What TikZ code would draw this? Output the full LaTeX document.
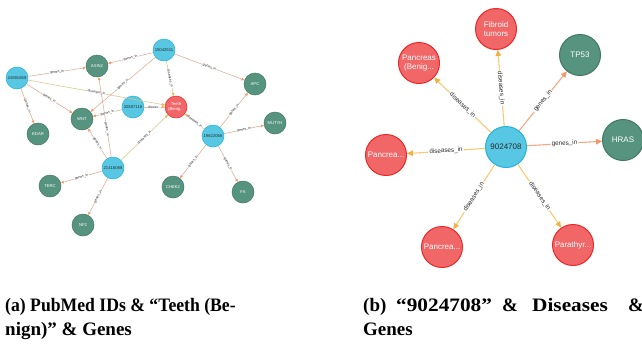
\documentclass[tikz,border=0pt]{standalone}
\usepackage{fontspec}
\setmainfont{Liberation Serif}
\newfontfamily\lsans{Liberation Sans}
\usetikzlibrary{arrows.meta}
\definecolor{nblue}{HTML}{57C7E3}
\definecolor{nbluedk}{HTML}{23B3D7}
\definecolor{nred}{HTML}{F16667}
\definecolor{nreddk}{HTML}{EB2728}
\definecolor{ngreen}{HTML}{569480}
\definecolor{ngreendk}{HTML}{447666}
\definecolor{gline}{HTML}{DDAA94}
\definecolor{dline}{HTML}{D9C38E}
\definecolor{gtip}{HTML}{F79767}
\definecolor{dtip}{HTML}{F2B140}
\definecolor{gline2}{HTML}{F5A684}
\definecolor{dline2}{HTML}{F8C977}
\definecolor{ntext}{HTML}{2B2B2B}
\tikzset{
  x=1pt, y=-1pt,
  sn/.style={circle, minimum size=22pt, inner sep=0pt, line width=0.5pt, align=center,
    font=\lsans\fontsize{4.2}{4.6}\selectfont},
  pubs/.style={sn, fill=nblue, draw=nbluedk, text=ntext},
  genes/.style={sn, fill=ngreen, draw=ngreendk, text=white},
  diss/.style={sn, fill=nred, draw=nreddk, text=white},
  bn/.style={circle, minimum size=41pt, inner sep=0pt, line width=1pt, align=center,
    font=\lsans\fontsize{8}{8.6}\selectfont},
  pubb/.style={bn, fill=nblue, draw=nbluedk, text=ntext},
  geneb/.style={bn, fill=ngreen, draw=ngreendk, text=white},
  disb/.style={bn, fill=nred, draw=nreddk, text=white},
  ge/.style={draw=gline, line width=0.55pt, -{Triangle[length=3pt,width=2.6pt,color=gtip]}},
  de/.style={draw=dline, line width=0.55pt, -{Triangle[length=3pt,width=2.6pt,color=dtip]}},
  geb/.style={draw=gline2, line width=1.1pt, -{Triangle[length=6pt,width=5.5pt,color=gtip]}},
  deb/.style={draw=dline2, line width=1.1pt, -{Triangle[length=6pt,width=5.5pt,color=dtip]}},
  lab/.style={midway, sloped, fill=white, inner sep=0.4pt, text=ntext,
    font=\lsans\fontsize{3.4}{3.8}\selectfont},
  labb/.style={midway, sloped, fill=white, inner sep=1pt, text=ntext,
    font=\lsans\fontsize{6.3}{7}\selectfont},
  captxt/.style={inner sep=0pt, anchor=base west, font=\bfseries\fontsize{19}{22}\selectfont},
}
\begin{document}
\begin{tikzpicture}
\useasboundingbox (0,0) rectangle (642,346);
% ---------- left graph ----------
\node[pubs] (p1) at (17,78) {24591659};
\node[genes] (axin) at (97,66) {AXIN2};
\node[pubs] (p2) at (164,50) {15042511};
\node[pubs] (p3) at (133,107) {32807118};
\node[diss] (teeth) at (176,107) {Teeth\\(Benig...};
\node[genes] (wnt) at (82,119) {WNT};
\node[genes] (edar) at (38,134) {EDAR};
\node[genes] (apc) at (255,84) {APC};
\node[genes] (mutyh) at (275,123) {MUTYH};
\node[pubs] (p4) at (213,136) {19622066};
\node[pubs] (p5) at (113,168) {21416088};
\node[genes] (terc) at (50,186) {TERC};
\node[genes] (nf2) at (83,225) {NF2};
\node[genes] (chek) at (173,187) {CHEK2};
\node[genes] (fa) at (243,192) {FA};

\draw[ge] (p1) -- node[lab]{genes\_in} (axin);
\draw[ge] (p1) -- node[lab]{genes\_in} (wnt);
\draw[ge] (p1) -- node[lab]{genes\_in} (edar);
\draw[de] (p1) -- node[lab]{diseases\_in} (teeth);
\draw[ge] (p2) -- node[lab]{genes\_in} (axin);
\draw[ge] (p2) -- node[lab]{genes\_in} (wnt);
\draw[de] (p2) -- node[lab]{diseases\_in} (teeth);
\draw[ge] (p2) -- node[lab]{genes\_in} (apc);
\draw[ge] (p3) -- node[lab]{genes\_in} (wnt);
\draw[de] (p3) -- node[lab]{diseas...} (teeth);
\draw[ge] (p5) -- node[lab, pos=0.35]{genes\_in} (axin);
\draw[ge] (p5) -- node[lab]{genes\_in} (wnt);
\draw[de] (p5) -- node[lab]{diseases\_in} (teeth);
\draw[ge] (p5) -- node[lab]{genes\_in} (terc);
\draw[ge] (p5) -- node[lab]{genes\_in} (nf2);
\draw[de] (p4) -- node[lab]{diseases\_in} (teeth);
\draw[ge] (p4) -- node[lab]{genes\_in} (apc);
\draw[ge] (p4) -- node[lab]{genes\_in} (mutyh);
\draw[ge] (p4) -- node[lab]{genes\_in} (chek);
\draw[ge] (p4) -- node[lab]{genes\_in} (fa);

% ---------- right graph ----------
\node[pubb] (c) at (506,147) {9024708};
\node[disb] (fib) at (496,29) {Fibroid\\tumors};
\node[geneb] (tp) at (580,55) {TP53};
\node[geneb] (hras) at (623,140) {HRAS};
\node[disb] (pb) at (419,63) {Pancreas\\(Benig...};
\node[disb] (pl) at (386,155) {Pancrea...};
\node[disb] (pbot) at (442,247) {Pancrea...};
\node[disb] (para) at (573,245) {Parathyr...};

\draw[deb] (c) -- node[labb]{diseases\_in} (fib);
\draw[geb] (c) -- node[labb]{genes\_in} (tp);
\draw[geb] (c) -- node[labb]{genes\_in} (hras);
\draw[deb] (c) -- node[labb]{diseases\_in} (pb);
\draw[deb] (c) -- node[labb]{diseases\_in} (pl);
\draw[deb] (c) -- node[labb]{diseases\_in} (pbot);
\draw[deb] (c) -- node[labb]{diseases\_in} (para);

% ---------- captions ----------
\node[captxt] (capa1) at (5,311) {\scalebox{0.93}[1]{(a) PubMed IDs \& “Teeth (Be-}};
\node[captxt] (capa2) at (5,335) {nign)” \& Genes};
\node[captxt] (capb1) at (363,311) {(b)};
\node[captxt] (capb2) at (396,311) {\scalebox{1.12}[1]{“9024708”}};
\node[captxt] (capb3) at (502,311) {\&};
\node[captxt] (capb4) at (532,311) {\scalebox{1.12}[1]{Diseases}};
\node[captxt] (capb5) at (628,311) {\&};
\node[captxt] (capb6) at (363,335) {Genes};
\end{tikzpicture}
\end{document}
